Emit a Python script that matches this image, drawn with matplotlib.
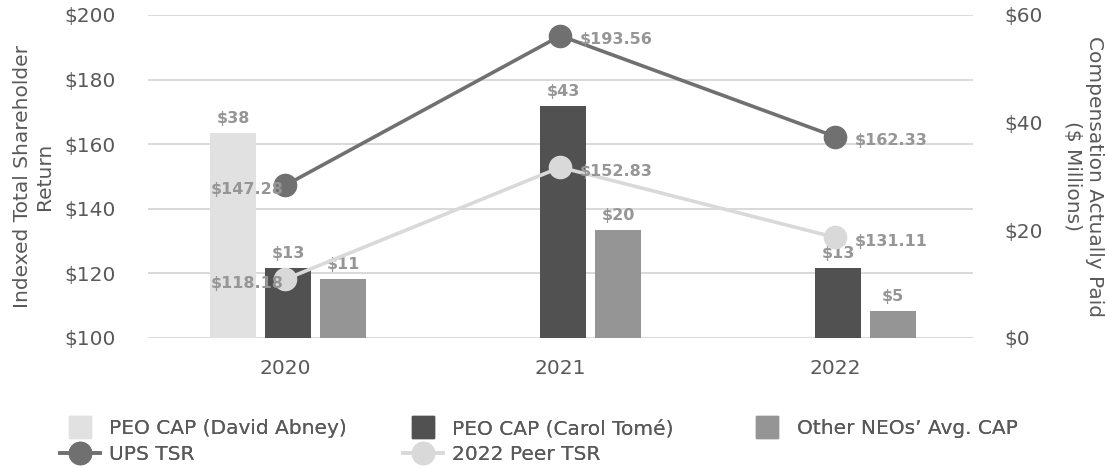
import matplotlib
matplotlib.use('Agg')
import matplotlib.pyplot as plt
from matplotlib.lines import Line2D
from matplotlib.patches import Patch, Rectangle
from matplotlib.legend_handler import HandlerPatch

years = ['2020', '2021', '2022']
abney_cap = [38, None, None]
tome_cap = [13, 43, 13]
neo_cap = [11, 20, 5]
ups_tsr = [147.28, 193.56, 162.33]
peer_tsr = [118.18, 152.83, 131.11]

c_abney = '#e1e1e1'
c_tome = '#515151'
c_neo = '#959595'
c_ups = '#707070'
c_peer = '#d9d9d9'
c_text = '#595959'
c_lbl = '#969696'

fig = plt.figure(figsize=(11.07, 4.68), dpi=100)
ax = fig.add_axes([0.1337, 0.278, 0.745, 0.690])   # grid + left ticks
ax2 = ax.twinx()                                   # bars, right scale
ax3 = ax.twinx()                                   # TSR lines on top
ax.set_zorder(0)
ax2.set_zorder(1)
ax3.set_zorder(2)
ax2.patch.set_visible(False)
ax3.patch.set_visible(False)

x = list(range(len(years)))
w = 0.167
lbl_kw = dict(ha='center', va='bottom', fontsize=11.5, fontweight='bold', color=c_lbl)

# bars (right axis)
for i in x:
    if abney_cap[i] is not None:
        ax2.bar(i - 0.19, abney_cap[i], w, color=c_abney)
        ax2.text(i - 0.19, abney_cap[i] + 1.3, f'${abney_cap[i]}', **lbl_kw)
    ax2.bar(i + 0.01, tome_cap[i], w, color=c_tome)
    ax2.text(i + 0.01, tome_cap[i] + 1.3, f'${tome_cap[i]}', **lbl_kw)
    ax2.bar(i + 0.21, neo_cap[i], w, color=c_neo)
    ax2.text(i + 0.21, neo_cap[i] + 1.3, f'${neo_cap[i]}', **lbl_kw)

# TSR lines (left scale)
ax3.plot(x, peer_tsr, color=c_peer, lw=2.6, marker='o', ms=16, zorder=3)
ax3.plot(x, ups_tsr, color=c_ups, lw=2.6, marker='o', ms=16, zorder=4)
for series in (ups_tsr, peer_tsr):
    for i, v in enumerate(series):
        if i == 0:
            off, ha = (-1, -3), 'right'
        else:
            off, ha = (14, -3), 'left'
        ax3.annotate(f'${v:.2f}', (i, v), xytext=off, textcoords='offset points',
                     ha=ha, va='center', fontsize=11.5, fontweight='bold',
                     color=c_lbl, zorder=6)

ax.set_xlim(-0.5, 2.5)
ax.set_ylim(100, 200)
ax3.set_ylim(100, 200)
ax.set_yticks(range(100, 201, 20))
ax.set_yticklabels([f'${t}' for t in range(100, 201, 20)])
ax2.set_ylim(0, 60)
ax2.set_yticks(range(0, 61, 20))
ax2.set_yticklabels([f'${t}' for t in range(0, 61, 20)])
ax3.set_yticks([])
ax.set_xticks(x)
ax.set_xticklabels(years)

ax.yaxis.grid(True, color='#d9d9d9', lw=1.4)
ax.xaxis.grid(False)
for a in (ax, ax2, ax3):
    for s in a.spines.values():
        s.set_visible(False)
    a.tick_params(length=0, labelsize=14.5, colors=c_text, pad=23)
ax.tick_params(axis='x', pad=15)

ax.set_ylabel('Indexed Total Shareholder\nReturn', fontsize=14.5, color=c_text, labelpad=8)
ax2.set_ylabel('Compensation Actually Paid\n($ Millions)', fontsize=14.5, color=c_text,
               rotation=270, labelpad=44)


def square_patch(legend, orig_handle, xdescent, ydescent, width, height, fontsize):
    side = width * 0.55
    return Rectangle((-xdescent + (width - side) / 2, -ydescent + (height - side) / 2),
                     side, side)


legend_font = {'family': 'DejaVu Sans', 'size': 14.5}
columns = [
    ([Patch(color=c_abney), Line2D([], [], color=c_ups, lw=2.6, marker='o', ms=16)],
     ['PEO CAP (David Abney)', 'UPS TSR'], 0.0542),
    ([Patch(color=c_tome), Line2D([], [], color=c_peer, lw=2.6, marker='o', ms=16)],
     ['PEO CAP (Carol Tomé)', '2022 Peer TSR'], 0.364),
    ([Patch(color=c_neo)], ['Other NEOs\u2019 Avg. CAP'], 0.675),
]
for hs, ls, x0 in columns:
    leg = fig.legend(hs, ls, loc='upper left', bbox_to_anchor=(x0, 0.104),
                     frameon=False, handlelength=2.0, handleheight=0.7, handletextpad=0.45,
                     labelspacing=0.33, borderpad=0, borderaxespad=0, prop=legend_font,
                     handler_map={Patch: HandlerPatch(patch_func=square_patch)})
    for t in leg.get_texts():
        t.set_color(c_text)
    fig.add_artist(leg)

fig.savefig('out.png', dpi=100)
